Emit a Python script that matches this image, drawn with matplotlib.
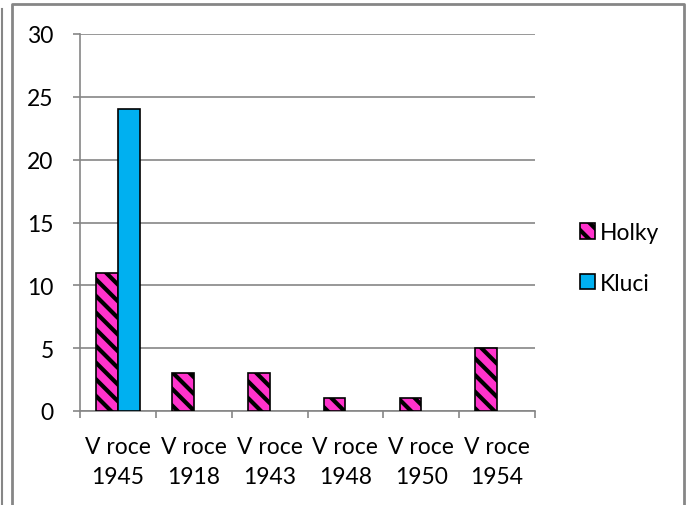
#!/usr/bin/env python3
"""Grouped bar chart: Holky / Kluci by year."""

import matplotlib
matplotlib.use("Agg")
import matplotlib.pyplot as plt
from matplotlib.lines import Line2D
from matplotlib.patches import Patch
import numpy as np

CATEGORIES = ["V roce\n1945", "V roce\n1918", "V roce\n1943",
              "V roce\n1948", "V roce\n1950", "V roce\n1954"]
HOLKY = [11, 3, 3, 1, 1, 5]
KLUCI = [24, 0, 0, 0, 0, 0]
Y_TICKS = [0, 5, 10, 15, 20, 25, 30]

PINK = "#ff33cc"
BLUE = "#00b0f0"
GRAY = "#868686"
FS = 16.5

W, H = 691, 506

plt.rcParams["font.family"] = ["Lato", "DejaVu Sans"]
plt.rcParams["hatch.linewidth"] = 3.0
plt.rcParams["hatch.color"] = "black"

fig = plt.figure(figsize=(W / 100, H / 100), dpi=100)
ax = fig.add_axes([80 / W, 1 - 412 / H, (535 - 80) / W, (412 - 35) / H])

x = np.arange(len(CATEGORIES))
bw = 0.285
holky = np.array(HOLKY, dtype=float)
kluci = np.array(KLUCI, dtype=float)
# empty bars leave no outline in the original
holky[holky == 0] = np.nan
kluci[kluci == 0] = np.nan
ax.bar(x - bw / 2, holky, bw, color=PINK, edgecolor="black", linewidth=1.2,
       hatch="\\\\", zorder=3)
ax.bar(x + bw / 2, kluci, bw, color=BLUE, edgecolor="black", linewidth=1.2,
       zorder=3)

ax.set_xlim(-0.5, len(CATEGORIES) - 0.5)
ax.set_ylim(0, 30)
ax.set_yticks(Y_TICKS)
ax.yaxis.grid(True, color=GRAY, linewidth=1.2, zorder=0)
ax.set_axisbelow(True)

ax.set_xticks(np.arange(len(CATEGORIES) + 1) - 0.5)
ax.set_xticklabels([])
ax.set_xticks(x, minor=True)
ax.set_xticklabels(CATEGORIES, minor=True, fontsize=FS, linespacing=1.55)
ax.tick_params(axis="x", which="major", length=5, width=1.2, color=GRAY)
ax.tick_params(axis="x", which="minor", length=0, pad=18)
ax.tick_params(axis="y", length=5, width=1.2, color=GRAY, labelsize=FS, pad=14)

for side in ("top", "right"):
    ax.spines[side].set_visible(False)
for side in ("left", "bottom"):
    ax.spines[side].set_color(GRAY)
    ax.spines[side].set_linewidth(1.2)

handles = [
    Patch(facecolor=PINK, edgecolor="black", hatch="\\\\", linewidth=1.2),
    Patch(facecolor=BLUE, edgecolor="black", linewidth=1.2),
]
fig.legend(handles, ["Holky", "Kluci"], loc="center left",
           bbox_to_anchor=(559 / W, 1 - 259 / H), frameon=False, fontsize=FS,
           handlelength=0.65, handleheight=0.65, handletextpad=0.25,
           labelspacing=1.3)

# outer chart frame
fig.add_artist(Line2D([12 / W, 12 / W, 684 / W, 684 / W],
                      [0, 1 - 5 / H, 1 - 5 / H, 0],
                      transform=fig.transFigure, color=GRAY, linewidth=2))
fig.add_artist(Line2D([2 / W, 2 / W], [0, 1 - 10 / H],
                      transform=fig.transFigure, color=GRAY, linewidth=1.5))

fig.savefig("out.png", dpi=100)
